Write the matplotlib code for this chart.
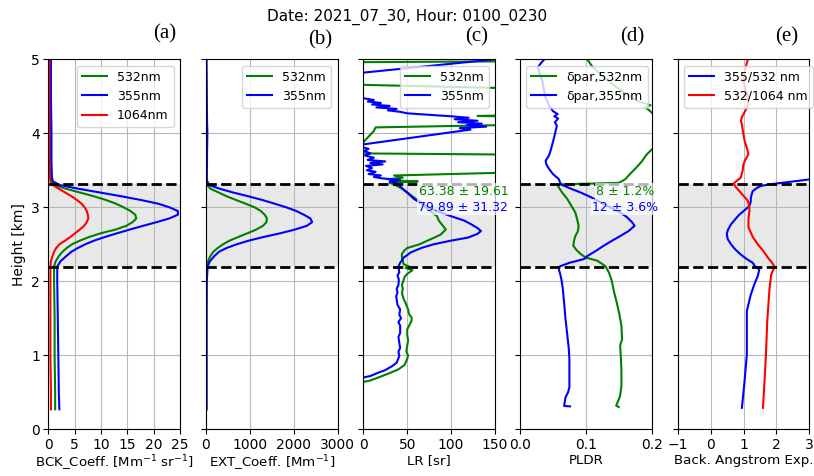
import matplotlib
matplotlib.use("Agg")
import matplotlib.pyplot as plt
import numpy as np

# layer limits [km]
layer_bottom = 2.2
layer_top = 3.32

# (a) backscatter coefficient [Mm-1 sr-1]
h_ab = [0.27, 0.5, 1.0, 1.5, 2.0, 2.2, 2.27, 2.34, 2.4, 2.45, 2.5, 2.55, 2.6, 2.65, 2.7,
        2.75, 2.8, 2.85, 2.9, 2.95, 3.0, 3.05, 3.1, 3.15, 3.2, 3.25, 3.3, 3.35, 3.4, 3.6,
        4.0, 4.5, 5.0]
bck_532 = [1.3, 1.3, 1.2, 1.2, 1.1, 1.1, 1.4, 2.0, 2.7, 3.5, 4.5, 6.0, 7.8, 10.0, 12.8,
           14.8, 16.0, 16.7, 16.5, 15.6, 14.3, 12.8, 10.9, 8.6, 6.0, 3.4, 1.2, 0.6, 0.5, 0.4,
           0.4, 0.3, 0.3]
bck_355 = [2.1, 2.0, 1.9, 1.8, 1.7, 1.7, 2.3, 3.4, 4.4, 5.6, 7.0, 8.7, 10.8, 13.1, 15.5,
           18.0, 20.6, 23.0, 24.6, 24.6, 23.0, 20.8, 17.5, 13.8, 9.8, 5.8, 2.2, 0.9, 0.7, 0.6,
           0.6, 0.5, 0.5]
bck_1064 = [0.5, 0.5, 0.4, 0.4, 0.4, 0.4, 0.5, 0.8, 1.1, 1.5, 2.1, 3.2, 4.2, 5.1, 6.0,
            6.8, 7.3, 7.6, 7.5, 7.3, 6.9, 6.3, 5.4, 4.4, 3.2, 2.0, 0.9, 0.4, 0.3, 0.2,
            0.2, 0.2, 0.2]

# (b) extinction coefficient [Mm-1]
ext_532 = [10, 10, 10, 10, 10, 20, 50, 100, 170, 270, 390, 540, 740, 950, 1150,
           1300, 1380, 1390, 1340, 1250, 1110, 900, 680, 470, 290, 110, 30, 15, 10, 20,
           30, 10, 0]
ext_355 = [15, 15, 15, 15, 20, 40, 90, 190, 300, 470, 700, 980, 1320, 1700, 2030,
           2300, 2420, 2380, 2230, 2060, 1830, 1560, 1280, 960, 620, 320, 80, 30, 20, 25,
           30, 20, 15]

# (c) lidar ratio [sr]
h_lr532 = [0.64, 0.66, 0.7, 0.75, 0.81, 0.87, 0.95, 1.0, 1.05, 1.13, 1.2, 1.28, 1.35, 1.42,
           1.47, 1.51, 1.56, 1.62, 1.68, 1.71, 1.76, 1.8, 1.84, 1.9, 1.95, 2.02, 2.06, 2.1,
           2.15, 2.18, 2.2, 2.23, 2.28, 2.33, 2.37, 2.42, 2.45, 2.5, 2.57, 2.63, 2.7, 2.76,
           2.82, 2.88, 2.95, 3.0, 3.07, 3.14, 3.2, 3.26, 3.31, 3.33, 3.35, 3.36, 3.38, 3.40,
           3.43, 3.48, 3.71, 3.73, 3.87, 3.88, 4.03, 4.08, 4.12, 4.22, 4.235, 4.25, 4.60,
           4.655, 4.67, 4.96, 4.975, 5.0]
lr_532 = [0, 8, 17, 28, 40, 47, 50, 51, 49, 50, 51, 50, 50, 53,
          55, 55, 52, 51, 49, 48, 46, 45, 44, 45, 44, 46, 47, 50,
          56, 48, 52, 46, 45, 44, 44, 47, 50, 64, 77, 88, 94, 90,
          86, 84, 76, 71, 65, 57, 50, 43, 35, 30, 62, 40, 28, 45,
          35, 200, 200, -20, -20, 0, 12, 14, 200, 200, 130, 200, 200,
          0, -20, -20, 200, 200]
h_lr355 = [0.70, 0.72, 0.765, 0.80, 0.855, 0.9, 0.99, 1.05, 1.1, 1.17, 1.25, 1.3, 1.4, 1.45,
           1.5, 1.55, 1.62, 1.68, 1.75, 1.8, 1.85, 1.9, 1.95, 2.02, 2.08, 2.12, 2.2, 2.25,
           2.32, 2.39, 2.45, 2.5, 2.55, 2.59, 2.64, 2.68, 2.72, 2.77, 2.82, 2.88, 2.93, 2.98,
           3.05, 3.12, 3.2, 3.26, 3.31, 3.33, 3.35, 3.37, 3.39, 3.41, 3.43, 3.45, 3.48, 3.5,
           3.53, 3.56, 3.58, 3.6, 3.62, 3.64, 3.67, 3.7, 3.73, 3.76, 3.79, 3.82, 3.85, 4.05,
           4.07, 4.09, 4.11, 4.13, 4.15, 4.17, 4.19, 4.21, 4.23, 4.25, 4.27, 4.29, 4.31, 4.33,
           4.35, 4.37, 4.39, 4.41, 4.43, 4.45, 4.47, 4.5, 4.8, 4.82, 5.0]
lr_355 = [0, 8, 17, 25, 33, 38, 41, 40, 42, 41, 40, 42, 42, 40,
          43, 41, 42, 39, 38, 37.5, 39, 38, 40, 40.5, 39, 41, 40, 42,
          46, 54, 66, 80, 100, 119, 130, 134, 130, 123, 115, 100, 88, 77,
          66, 57, 50, 44, 40, 38, 30, 42, 22, 12, 20, 6, 14, 4,
          10, 3, 22, 8, 25, 5, 12, 2, 8, 1, 6, -3, 0, 122,
          110, 140, 118, 135, 108, 130, 104, 120, 100, 75, 50, 42, 28, 38,
          15, 30, 10, 20, 5, 12, 2, -15, -10, 0, 150]

# (d) particle linear depolarization ratio
h_d532 = [0.30, 0.32, 0.36, 0.45, 0.585, 0.8, 1.0, 1.13, 1.22, 1.4, 1.55, 1.71, 1.85, 2.02,
          2.12, 2.2, 2.24, 2.28, 2.32, 2.37, 2.42, 2.48, 2.55, 2.61, 2.68, 2.75, 2.83, 2.93,
          3.02, 3.11, 3.2, 3.28, 3.31, 3.33, 3.38, 3.45, 3.54, 3.62, 3.71, 3.78, 3.85, 4.2,
          4.28, 4.32, 4.35, 4.38, 4.44, 4.53, 4.62, 4.72, 4.8, 4.9, 5.0]
pldr_532 = [0.150, 0.146, 0.148, 0.152, 0.154, 0.154, 0.153, 0.152, 0.155, 0.154, 0.151,
            0.147, 0.143, 0.139, 0.135, 0.130, 0.124, 0.117, 0.100, 0.092, 0.086, 0.081,
            0.082, 0.084, 0.088, 0.089, 0.087, 0.084, 0.078, 0.072, 0.064, 0.058, 0.060,
            0.150, 0.160, 0.167, 0.177, 0.185, 0.192, 0.200, 0.210, 0.210, 0.200, 0.195,
            0.190, 0.198, 0.177, 0.162, 0.147, 0.133, 0.122, 0.110, 0.102]
h_d355 = [0.31, 0.315, 0.37, 0.43, 0.5, 0.57, 0.8, 0.95, 1.1, 1.26, 1.5, 1.71, 1.9, 2.02,
          2.1, 2.16, 2.2, 2.25, 2.3, 2.34, 2.41, 2.48, 2.55, 2.61, 2.68, 2.75, 2.8, 2.87,
          2.93, 3.0, 3.07, 3.14, 3.2, 3.26, 3.31, 3.38, 3.45, 3.52, 3.58, 3.63, 3.7, 3.78,
          3.85, 3.95, 4.03, 4.1, 4.15, 4.2, 4.23, 4.26, 4.3, 4.38, 4.48, 4.6, 4.71, 4.8,
          4.89, 4.95, 5.0]
pldr_355 = [0.076, 0.067, 0.068, 0.069, 0.073, 0.075, 0.075, 0.075, 0.074, 0.072, 0.069,
            0.067, 0.065, 0.063, 0.061, 0.059, 0.060, 0.075, 0.097, 0.102, 0.115, 0.127,
            0.140, 0.152, 0.165, 0.174, 0.170, 0.162, 0.152, 0.137, 0.122, 0.107, 0.092,
            0.075, 0.062, 0.059, 0.050, 0.044, 0.040, 0.039, 0.044, 0.047, 0.049, 0.052,
            0.054, 0.056, 0.053, 0.058, 0.052, 0.057, 0.050, 0.044, 0.039, 0.036, 0.034,
            0.030, 0.027, 0.032, 0.037]

# (e) backscatter Angstrom exponent
h_ae355 = [0.29, 0.6, 1.01, 1.3, 1.6, 1.82, 1.95, 2.07, 2.16, 2.2, 2.25, 2.3, 2.36, 2.43,
           2.5, 2.57, 2.64, 2.7, 2.77, 2.84, 2.9, 2.96, 3.02, 3.08, 3.13, 3.18, 3.22, 3.26,
           3.29, 3.31, 3.33, 3.36, 3.38, 3.4]
ae_355_532 = [0.95, 1.02, 1.1, 1.1, 1.1, 1.22, 1.32, 1.43, 1.48, 1.35, 1.28, 1.1, 0.92, 0.75,
              0.62, 0.52, 0.49, 0.53, 0.62, 0.75, 0.87, 1.03, 1.18, 1.22, 1.22, 1.25, 1.28,
              1.4, 1.53, 1.8, 2.14, 2.7, 3.05, 3.3]
h_ae532 = [0.29, 0.6, 1.01, 1.46, 1.91, 2.09, 2.2, 2.26, 2.32, 2.42, 2.5, 2.6, 2.73, 2.85,
           2.95, 3.02, 3.09, 3.18, 3.27, 3.32, 3.36, 3.4, 3.5, 3.57, 3.63, 3.72, 3.8, 3.9,
           4.03, 4.12, 4.17, 4.22, 4.3, 4.4, 4.5, 4.6, 4.7, 4.8, 4.9, 5.0]
ae_532_1064 = [1.59, 1.63, 1.68, 1.72, 1.79, 1.84, 1.94, 1.85, 1.74, 1.58, 1.43, 1.28, 1.15,
               1.15, 1.18, 1.17, 1.13, 0.95, 0.77, 0.70, 0.80, 0.915, 0.975, 0.99, 1.04, 1.15,
               1.10, 1.03, 0.98, 0.95, 0.92, 0.95, 1.05, 1.15, 1.12, 1.05, 1.0, 1.02, 1.07,
               1.13]

fig = plt.figure(figsize=(8.14, 4.76), dpi=100)
fig.suptitle("Date: 2021_07_30, Hour: 0100_0230", y=0.982, fontsize=11)

lefts = [48.3, 205.9, 363.3, 520.0, 677.7]
axes = [fig.add_axes([l / 814, 0.0981, 131.7 / 814, 0.7773]) for l in lefts]

for i, ax in enumerate(axes):
    ax.axhspan(layer_bottom, layer_top, color="lightgray", alpha=0.5, lw=0, zorder=0)
    ax.axhline(layer_top, color="k", ls="--", lw=2, zorder=3)
    ax.axhline(layer_bottom, color="k", ls="--", lw=2, zorder=3)
    ax.grid(True, zorder=1, color="#b8b8b8", lw=0.8)
    ax.set_ylim(0, 5)
    ax.tick_params(labelsize=10, pad=2.5)
    if i > 0:
        ax.set_yticklabels([])

xl = dict(fontsize=9.6, labelpad=1.5)

ax = axes[0]
ax.plot(bck_532, h_ab, color="green", lw=1.5, label="532nm")
ax.plot(bck_355, h_ab, color="blue", lw=1.5, label="355nm")
ax.plot(bck_1064, h_ab, color="red", lw=1.5, label="1064nm")
ax.set_xlim(0, 25)
ax.set_xticks([0, 5, 10, 15, 20, 25])
ax.set_ylabel("Height [km]", fontsize=10)
ax.set_xlabel("BCK_Coeff. [Mm$^{-1}$ sr$^{-1}$]", **xl)
ax.legend(loc="upper right", fontsize=9)

ax = axes[1]
ax.plot(ext_532, h_ab, color="green", lw=1.5, label="532nm")
ax.plot(ext_355, h_ab, color="blue", lw=1.5, label="355nm")
ax.set_xlim(0, 3000)
ax.set_xticks([0, 1000, 2000, 3000])
ax.set_xlabel("EXT_Coeff. [Mm$^{-1}$]", **xl)
ax.legend(loc="upper right", fontsize=9)

ax = axes[2]
ax.plot(lr_532, h_lr532, color="green", lw=1.5, label="532nm")
ax.plot(lr_355, h_lr355, color="blue", lw=1.5, label="355nm")
ax.set_xlim(0, 150)
ax.set_xticks([0, 50, 100, 150])
ax.set_xlabel("LR [sr]", **xl)
ax.legend(loc="upper right", fontsize=9)
box = dict(facecolor="white", alpha=0.7, edgecolor="none", pad=1)
ax.text(114, 3.22, "63.38 \u00b1 19.61", color="green", ha="center", va="center",
        fontsize=9, bbox=box, zorder=5, clip_on=False)
ax.text(114, 3.0, "79.89 \u00b1 31.32", color="blue", ha="center", va="center",
        fontsize=9, bbox=box, zorder=5, clip_on=False)

ax = axes[3]
ax.plot(pldr_532, h_d532, color="green", lw=1.5, label="\u03b4par,532nm")
ax.plot(pldr_355, h_d355, color="blue", lw=1.5, label="\u03b4par,355nm")
ax.set_xlim(0, 0.2)
ax.set_xticks([0.0, 0.1, 0.2])
ax.set_xlabel("PLDR", **xl)
ax.legend(loc="upper left", fontsize=9)
ax.text(0.16, 3.22, "8 \u00b1 1.2%", color="green", ha="center", va="center",
        fontsize=9, bbox=box, zorder=5, clip_on=False)
ax.text(0.16, 3.0, "12 \u00b1 3.6%", color="blue", ha="center", va="center",
        fontsize=9, bbox=box, zorder=5, clip_on=False)

ax = axes[4]
ax.plot(ae_355_532, h_ae355, color="blue", lw=1.5, label="355/532 nm")
ax.plot(ae_532_1064, h_ae532, color="red", lw=1.5, label="532/1064 nm")
ax.set_xlim(-1, 3)
ax.set_xticks([-1, 0, 1, 2, 3])
ax.set_xlabel("Back. Angstrom Exp.", **xl)
ax.legend(loc="upper left", fontsize=9)

panel_labels = ["(a)", "(b)", "(c)", "(d)", "(e)"]
label_pos = [(165, 34), (320, 40), (477, 37), (632, 37), (787, 37)]
for lab, (px, py) in zip(panel_labels, label_pos):
    fig.text(px / 814, 1 - py / 476, lab, ha="center", va="center",
             fontsize=15, family="Liberation Serif")

fig.savefig("out.png", dpi=100)
